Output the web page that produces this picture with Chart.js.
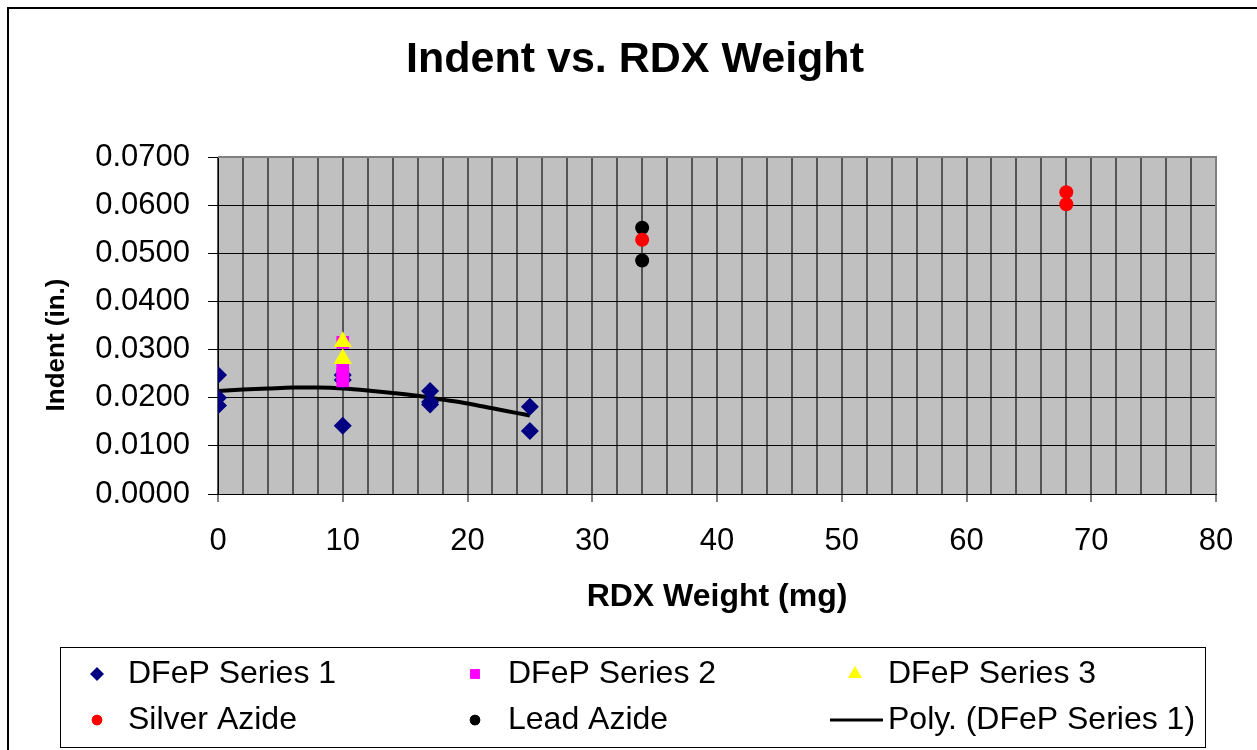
<!DOCTYPE html>
<html>
<head>
<meta charset="utf-8">
<script src="https://cdn.jsdelivr.net/npm/chart.js@4"></script>
<style>
  html, body { margin: 0; padding: 0; background: #fff; }
  #wrap { width: 1257px; height: 750px; position: relative; }
</style>
</head>
<body>
<div id="wrap"><canvas id="c" width="1257" height="750"></canvas></div>
<script>
// ---- Data ----
const titleText = "Indent vs. RDX Weight";
const xTitle = "RDX Weight (mg)";
const yTitle = "Indent (in.)";

const s1X = [0, 0, 0, 10, 10, 10, 17, 17, 17, 25, 25];
const s1Y = [0.0247, 0.0200, 0.0184, 0.0247, 0.0237, 0.0142, 0.0214, 0.0191, 0.0186, 0.0181, 0.0131];

const s2X = [10, 10, 10, 10];
const s2Y = [0.0315, 0.0262, 0.0248, 0.0235];

const s3X = [10, 10];
const s3Y = [0.0316, 0.0281];

const silverX = [34, 68, 68];
const silverY = [0.0528, 0.0627, 0.0602];

const leadX = [34, 34];
const leadY = [0.0553, 0.0485];

const polyX = [0, 2, 4, 6, 8, 10, 12, 14, 16, 18, 20, 22, 24, 25];
const polyY = [0.0214, 0.0217, 0.0219, 0.0221, 0.0221, 0.0219, 0.0215, 0.0210, 0.0204, 0.0196, 0.0188, 0.0178, 0.0168, 0.0163];

const seriesNames = ["DFeP Series 1", "DFeP Series 2", "DFeP Series 3", "Silver Azide", "Lead Azide", "Poly. (DFeP Series 1)"];

const xMin = 0, xMax = 80, xMinor = 2, xMajor = 10;
const yMin = 0, yMax = 0.07, yStep = 0.01;

function pts(xs, ys) { return xs.map((x, i) => ({ x: x, y: ys[i] })); }

const FONT = "'Liberation Sans', Arial, sans-serif";

const plotBg = {
  id: 'plotBg',
  beforeDraw(chart) {
    const { ctx, chartArea: a } = chart;
    ctx.save();
    ctx.strokeStyle = '#000';
    ctx.lineWidth = 2;
    ctx.strokeRect(8, 8, 1400, 900);
    ctx.fillStyle = '#c0c0c0';
    ctx.fillRect(a.left, a.top, a.right - a.left, a.bottom - a.top);
    ctx.restore();
  },
  afterDatasetsDraw(chart) {
    const { ctx, chartArea: a } = chart;
    ctx.save();
    ctx.strokeStyle = '#808080';
    ctx.lineWidth = 2;
    ctx.beginPath();
    ctx.moveTo(a.left, a.top);
    ctx.lineTo(a.right, a.top);
    ctx.lineTo(a.right, a.bottom);
    ctx.stroke();
    ctx.restore();
  }
};

const textPlugin = {
  id: 'textPlugin',
  afterDraw(chart) {
    const { ctx } = chart;
    ctx.save();
    ctx.fillStyle = '#000';
    ctx.textAlign = 'center';
    ctx.textBaseline = 'middle';
    ctx.font = "bold 43px " + FONT;
    ctx.fillText(titleText, 635, 60);
    ctx.translate(57, 345);
    ctx.rotate(-Math.PI / 2);
    ctx.font = "bold 26px " + FONT;
    ctx.fillText(yTitle, 0, 0);
    ctx.restore();
  }
};

const customLegend = {
  id: 'customLegend',
  afterDraw(chart) {
    const { ctx } = chart;
    ctx.save();
    ctx.strokeStyle = '#000';
    ctx.lineWidth = 1;
    ctx.strokeRect(60.5, 647.5, 1145, 100);
    const markX = [97, 475, 855];
    const textX = [128, 508, 888];
    const rowY = [674, 720];
    ctx.font = "32px " + FONT;
    ctx.textBaseline = 'middle';
    ctx.textAlign = 'left';
    chart.data.datasets.forEach((ds, i) => {
      const col = i % 3, row = Math.floor(i / 3);
      const mx = markX[col], my = rowY[row];
      if (ds.showLine) {
        ctx.strokeStyle = ds.borderColor;
        ctx.lineWidth = 3;
        ctx.beginPath();
        ctx.moveTo(830, my);
        ctx.lineTo(883, my);
        ctx.stroke();
      } else {
        ctx.fillStyle = ds.backgroundColor;
        ctx.strokeStyle = ds.backgroundColor;
        Chart.helpers.drawPoint(ctx, { pointStyle: ds.pointStyle, radius: ds.pointRadius * 0.75, borderWidth: 0 }, mx, my);
        ctx.fill();
      }
      ctx.fillStyle = '#000';
      ctx.fillText(ds.label, textX[col], my);
    });
    ctx.restore();
  }
};

new Chart(document.getElementById('c'), {
  type: 'scatter',
  data: {
    datasets: [
      { label: seriesNames[0], data: pts(s1X, s1Y), pointStyle: 'rectRot', pointRadius: 9, backgroundColor: '#000080', borderColor: '#000080', borderWidth: 0, order: 6 },
      { label: seriesNames[1], data: pts(s2X, s2Y), pointStyle: 'rect', pointRadius: 9, backgroundColor: '#FF00FF', borderColor: '#FF00FF', borderWidth: 0, order: 5 },
      { label: seriesNames[2], data: pts(s3X, s3Y), pointStyle: 'triangle', pointRadius: 10.5, backgroundColor: '#FFFF00', borderColor: '#FFFF00', borderWidth: 0, order: 4 },
      { label: seriesNames[3], data: pts(silverX, silverY), pointStyle: 'circle', pointRadius: 7, backgroundColor: '#FF0000', borderColor: '#FF0000', borderWidth: 0, order: 2 },
      { label: seriesNames[4], data: pts(leadX, leadY), pointStyle: 'circle', pointRadius: 7, backgroundColor: '#000000', borderColor: '#000000', borderWidth: 0, order: 3 },
      { label: seriesNames[5], data: pts(polyX, polyY), showLine: true, pointRadius: 0, borderColor: '#000000', backgroundColor: '#000000', borderWidth: 4, tension: 0.3, order: 10 }
    ]
  },
  options: {
    responsive: false,
    animation: false,
    devicePixelRatio: 1,
    layout: { padding: { left: 20, right: 41, top: 157, bottom: 103 } },
    plugins: {
      legend: { display: false },
      tooltip: { enabled: false },
      title: { display: false }
    },
    scales: {
      x: {
        type: 'linear',
        min: xMin, max: xMax,
        afterFit(scale) { scale.height = 153; },
        ticks: {
          stepSize: xMinor,
          color: '#000',
          font: { family: FONT, size: 31 },
          padding: 21,
          maxRotation: 0,
          autoSkip: false,
          callback: (v) => (v % xMajor === 0 ? String(v) : '')
        },
        grid: {
          color: '#555555',
          lineWidth: 2,
          drawTicks: true,
          tickLength: 8,
          tickWidth: 1,
          tickColor: (c) => (c.tick && c.tick.value % xMajor === 0 ? '#000' : 'rgba(0,0,0,0)')
        },
        border: { color: '#000', width: 1 },
        title: {
          display: true,
          text: xTitle,
          color: '#000',
          font: { family: FONT, size: 32, weight: 'bold' },
          padding: { top: 0, bottom: 31 }
        }
      },
      y: {
        type: 'linear',
        min: yMin, max: yMax,
        afterFit(scale) { scale.width = 198; },
        ticks: {
          stepSize: yStep,
          color: '#000',
          font: { family: FONT, size: 31 },
          padding: 18,
          callback: (v) => v.toFixed(4)
        },
        grid: {
          color: '#000',
          lineWidth: 1,
          tickLength: 10,
          tickColor: '#000'
        },
        border: { color: '#000', width: 1 },
        title: { display: false }
      }
    }
  },
  plugins: [plotBg, textPlugin, customLegend]
});
</script>
</body>
</html>
